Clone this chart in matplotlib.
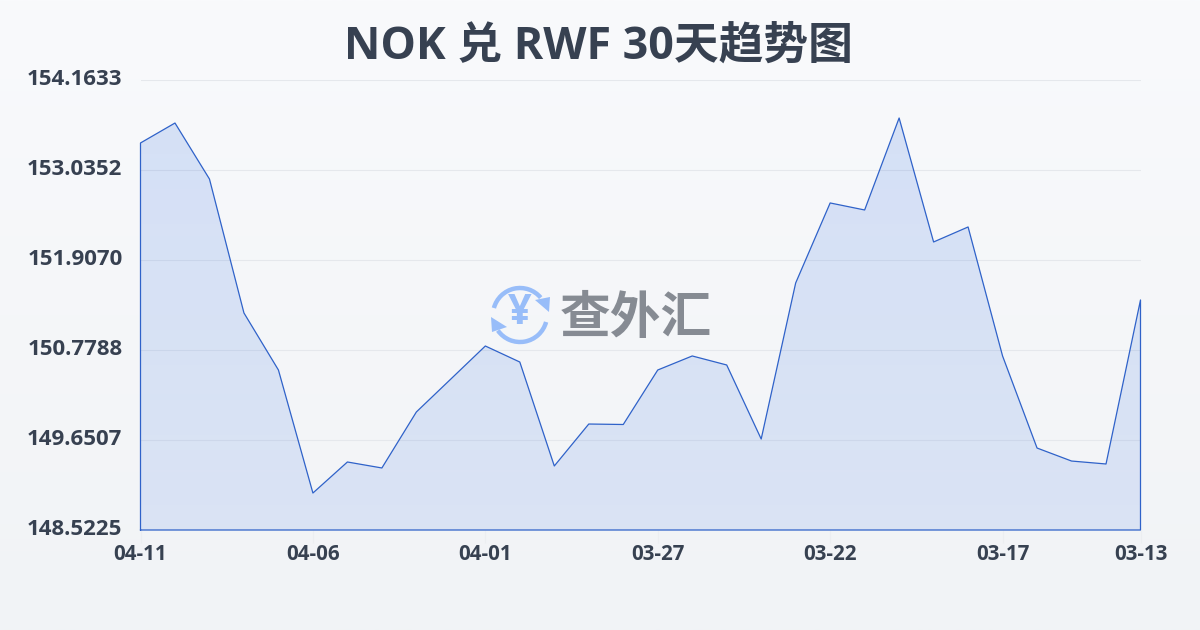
import matplotlib
matplotlib.use('Agg')
import matplotlib.pyplot as plt
import matplotlib.transforms as mtrans
import numpy as np
from matplotlib.patches import Arc, Polygon

plt.rcParams['font.family'] = ['Open Sans', 'Noto Sans CJK SC', 'DejaVu Sans']

dates = ["04-11", "04-06", "04-01", "03-27", "03-22", "03-17", "03-13"]
date_pos = [0, 5, 10, 15, 20, 25, 29]
y_labels = ["148.5225", "149.6507", "150.7788", "151.9070", "153.0352", "154.1633"]
rates = [153.374, 153.624, 152.922, 151.243, 150.528, 148.986, 149.375, 149.300,
         150.002, 150.415, 150.829, 150.628, 149.325, 149.851, 149.845, 150.528,
         150.704, 150.591, 149.663, 151.619, 152.622, 152.534, 153.687, 152.133,
         152.321, 150.704, 149.550, 149.387, 149.350, 151.406]

text_col = '#374151'
line_col = '#2f62c9'

fig = plt.figure(figsize=(12, 6.3), dpi=100)

# background gradient
bg = fig.add_axes([0, 0, 1, 1], zorder=0)
top = np.array([249, 250, 252]) / 255
bot = np.array([241, 243, 246]) / 255
t = np.linspace(0, 1, 256)[:, None, None]
bg.imshow(top * (1 - t) + bot * t, aspect='auto', extent=[0, 1200, 0, 630])
bg.set_xlim(0, 1200)
bg.set_ylim(0, 630)
bg.axis('off')

ax = fig.add_axes([140.5 / 1200, 100 / 630, 1000 / 1200, 450 / 630], zorder=1)
ax.patch.set_alpha(0)
xs = np.arange(len(rates))
ymin, ymax = float(y_labels[0]), float(y_labels[-1])

ax.grid(axis='y', color='#e5e8ec', lw=0.8)
ax.set_axisbelow(True)

# translucent gradient fill clipped to the area under the line
poly = ax.fill_between(xs, rates, ymin, color='none', lw=0)
shade = np.zeros((256, 1, 4))
shade[..., 0] = 0.13
shade[..., 1] = 0.39
shade[..., 2] = 0.88
shade[..., 3] = np.linspace(0.165, 0.115, 256)[:, None]
im = ax.imshow(shade, aspect='auto', extent=[0, 29, ymin, ymax], zorder=2)
im.set_clip_path(poly.get_paths()[0], transform=ax.transData)

# outline runs round the whole area
ax.plot(np.r_[xs[0], xs, xs[-1], xs[0]], np.r_[ymin, rates, ymin, ymin],
        color=line_col, lw=0.9, zorder=3, clip_on=False)

ax.set_xlim(0, 29)
ax.set_ylim(ymin, ymax)
ax.set_xticks(date_pos, dates)
ax.set_yticks([float(v) for v in y_labels], y_labels)
ax.tick_params(axis='x', length=9, width=0.8, color='#eceef1', pad=1,
               labelsize=14.8, labelcolor=text_col)
ax.tick_params(axis='y', length=0, pad=13, labelsize=16, labelcolor=text_col)
for lab in ax.get_xticklabels() + ax.get_yticklabels():
    lab.set_fontweight('bold')
# y labels sit a little above their gridlines
up = mtrans.ScaledTranslation(0, 2 / 72, fig.dpi_scale_trans)
for lab in ax.get_yticklabels():
    lab.set_transform(lab.get_transform() + up)
for s in ax.spines.values():
    s.set_visible(False)

fig.text(0.5 - 1.5 / 1200, 1 - 47.5 / 630, "NOK 兑 RWF 30天趋势图", ha='center', va='center',
         fontsize=32.2, fontweight='bold', color=text_col)

# watermark
wm = fig.add_axes([0, 0, 1, 1], zorder=5)
wm.set_xlim(0, 1200)
wm.set_ylim(0, 630)
wm.axis('off')
logo = '#98bdf9'
cy = 630 - 315
wm.add_patch(Arc((520, cy), 54, 54, theta1=40, theta2=165, color=logo, lw=3.2))
wm.add_patch(Arc((520, cy), 54, 54, theta1=215, theta2=345, color=logo, lw=3.2))
wm.add_patch(Polygon([(535, 630 - 300), (550, 630 - 297), (549, 630 - 312)], color=logo, lw=0))
wm.add_patch(Polygon([(491, 630 - 317), (507, 630 - 327), (492, 630 - 332)], color=logo, lw=0))
wm.text(520, cy + 1, "¥", ha='center', va='center', fontsize=30, fontweight='bold', color=logo)
wm.text(636, cy - 5, "查外汇", ha='center', va='center', fontsize=36.5, fontweight='bold', color='#868b93')

fig.savefig('out.png', dpi=100)
